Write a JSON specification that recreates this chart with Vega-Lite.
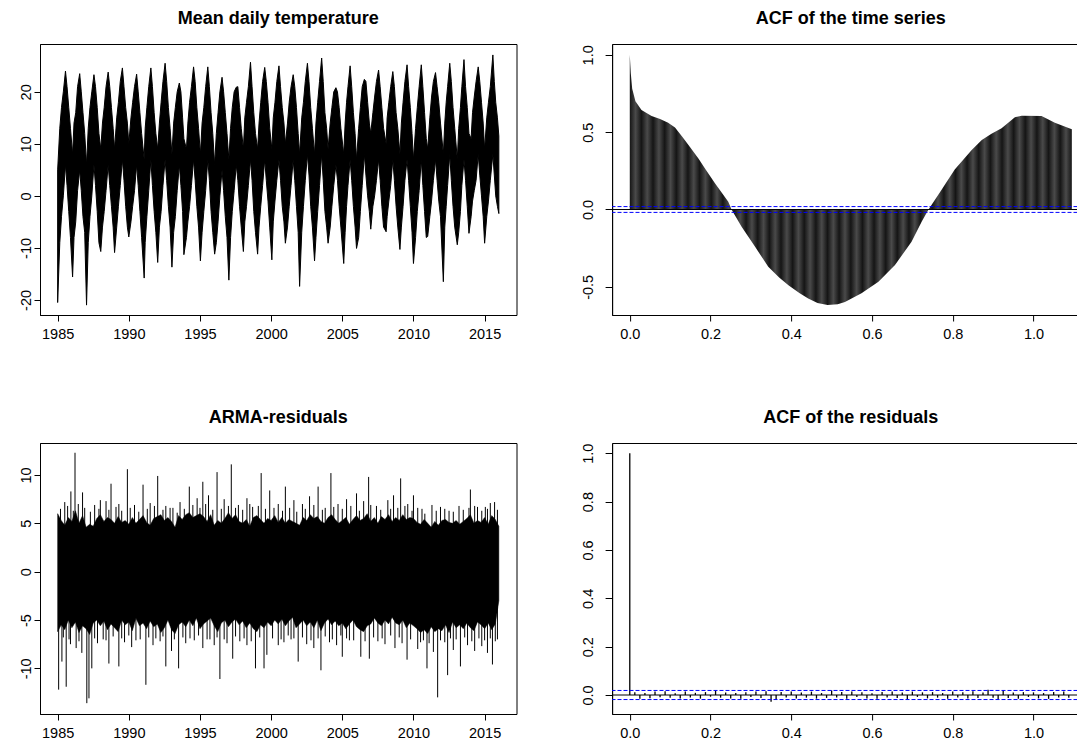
{
"$schema": "https://vega.github.io/schema/vega-lite/v6.json",
"padding": {"left": 5, "top": 9, "right": 0, "bottom": 0},
"background": "white",
"config": {
 "view": {"stroke": "black", "strokeWidth": 1},
 "axis": {"grid": false, "domainColor": "black", "tickColor": "black", "labelColor": "black", "labelFont": "Liberation Sans", "labelFontSize": 14.5, "tickSize": 6, "title": null, "labelPadding": 6, "labelFlush": false, "labelOverlap": false},
 "axisY": {"labelAngle": -90, "labelAlign": "center", "labelBaseline": "alphabetic", "labelPadding": 4, "minExtent": 34, "maxExtent": 34},
 "title": {"font": "Liberation Sans", "fontSize": 18, "fontWeight": "bold", "color": "black", "anchor": "middle", "frame": "group", "baseline": "top", "offset": 16}
},
"datasets": {
 "temp": [
  {"t":1985.0,"lo":-20.5,"hi":5},{"t":1985.15,"lo":-9,"hi":13},{"t":1985.27,"lo":-4,"hi":17},{"t":1985.4,"lo":0,"hi":20},{"t":1985.55,"lo":6,"hi":24},{"t":1985.66,"lo":2,"hi":21},{"t":1985.78,"lo":-3,"hi":17},{"t":1985.9,"lo":-8,"hi":13},
  {"t":1986.05,"lo":-15.6,"hi":8},{"t":1986.15,"lo":-8,"hi":14},{"t":1986.27,"lo":-5,"hi":16},{"t":1986.4,"lo":1,"hi":21},{"t":1986.55,"lo":5,"hi":23.5},{"t":1986.66,"lo":1,"hi":20},{"t":1986.78,"lo":-4,"hi":16},{"t":1986.9,"lo":-7,"hi":12},
  {"t":1987.03,"lo":-21,"hi":6},{"t":1987.15,"lo":-9,"hi":13},{"t":1987.27,"lo":-4,"hi":17},{"t":1987.4,"lo":0,"hi":20},{"t":1987.55,"lo":6,"hi":23.3},{"t":1987.66,"lo":2,"hi":21},{"t":1987.78,"lo":-3,"hi":17},{"t":1987.9,"lo":-9,"hi":12},
  {"t":1988.03,"lo":-10.7,"hi":9},{"t":1988.15,"lo":-6,"hi":14},{"t":1988.27,"lo":-3,"hi":17},{"t":1988.4,"lo":1,"hi":21},{"t":1988.55,"lo":6,"hi":23.8},{"t":1988.66,"lo":2,"hi":21},{"t":1988.78,"lo":-2,"hi":17},{"t":1988.9,"lo":-6,"hi":13},
  {"t":1989.0,"lo":-10.9,"hi":9},{"t":1989.15,"lo":-6,"hi":15},{"t":1989.27,"lo":-2,"hi":18},{"t":1989.4,"lo":2,"hi":22},{"t":1989.55,"lo":7,"hi":24.6},{"t":1989.66,"lo":3,"hi":21},{"t":1989.78,"lo":-2,"hi":17},{"t":1989.9,"lo":-6,"hi":14},
  {"t":1990.0,"lo":-7.9,"hi":10},{"t":1990.15,"lo":-5,"hi":15},{"t":1990.27,"lo":-2,"hi":18},{"t":1990.4,"lo":1,"hi":21},{"t":1990.55,"lo":6,"hi":23.4},{"t":1990.66,"lo":2,"hi":20},{"t":1990.78,"lo":-3,"hi":16},{"t":1990.9,"lo":-8,"hi":12},
  {"t":1991.08,"lo":-15.8,"hi":7},{"t":1991.15,"lo":-9,"hi":13},{"t":1991.27,"lo":-4,"hi":17},{"t":1991.4,"lo":1,"hi":21},{"t":1991.55,"lo":7,"hi":24.6},{"t":1991.66,"lo":2,"hi":21},{"t":1991.78,"lo":-3,"hi":16},{"t":1991.9,"lo":-7,"hi":12},
  {"t":1992.03,"lo":-12.8,"hi":9},{"t":1992.15,"lo":-6,"hi":14},{"t":1992.27,"lo":-3,"hi":18},{"t":1992.4,"lo":2,"hi":22},{"t":1992.55,"lo":7,"hi":25.5},{"t":1992.66,"lo":3,"hi":22},{"t":1992.78,"lo":-2,"hi":17},{"t":1992.9,"lo":-6,"hi":13},
  {"t":1993.03,"lo":-13.7,"hi":8},{"t":1993.15,"lo":-7,"hi":14},{"t":1993.27,"lo":-4,"hi":17},{"t":1993.4,"lo":1,"hi":20},{"t":1993.55,"lo":6,"hi":21.7},{"t":1993.66,"lo":2,"hi":20},{"t":1993.78,"lo":-3,"hi":15},{"t":1993.87,"lo":-11.3,"hi":11},
  {"t":1994.05,"lo":-8,"hi":9},{"t":1994.15,"lo":-5,"hi":14},{"t":1994.27,"lo":-2,"hi":18},{"t":1994.4,"lo":2,"hi":21},{"t":1994.55,"lo":7,"hi":24.8},{"t":1994.66,"lo":3,"hi":22},{"t":1994.78,"lo":-2,"hi":17},{"t":1994.9,"lo":-6,"hi":13},
  {"t":1995.03,"lo":-12.5,"hi":8},{"t":1995.15,"lo":-7,"hi":14},{"t":1995.27,"lo":-3,"hi":17},{"t":1995.4,"lo":1,"hi":21},{"t":1995.55,"lo":7,"hi":24.8},{"t":1995.66,"lo":3,"hi":21},{"t":1995.78,"lo":-3,"hi":16},{"t":1995.9,"lo":-7,"hi":12},
  {"t":1996.03,"lo":-11.2,"hi":6},{"t":1996.15,"lo":-9,"hi":12},{"t":1996.27,"lo":-5,"hi":16},{"t":1996.4,"lo":0,"hi":20},{"t":1996.55,"lo":5,"hi":22.8},{"t":1996.66,"lo":1,"hi":20},{"t":1996.78,"lo":-4,"hi":16},{"t":1996.9,"lo":-8,"hi":12},
  {"t":1997.03,"lo":-16.2,"hi":7},{"t":1997.15,"lo":-8,"hi":13},{"t":1997.27,"lo":-3,"hi":17},{"t":1997.4,"lo":1,"hi":20},{"t":1997.55,"lo":6,"hi":20.9},{"t":1997.66,"lo":3,"hi":21},{"t":1997.78,"lo":-2,"hi":17},{"t":1997.9,"lo":-6,"hi":13},
  {"t":1998.05,"lo":-10.7,"hi":9},{"t":1998.15,"lo":-5,"hi":15},{"t":1998.27,"lo":-2,"hi":18},{"t":1998.4,"lo":2,"hi":21},{"t":1998.55,"lo":7,"hi":25.7},{"t":1998.66,"lo":3,"hi":21},{"t":1998.78,"lo":-3,"hi":16},{"t":1998.9,"lo":-7,"hi":12},
  {"t":1999.05,"lo":-11.2,"hi":9},{"t":1999.15,"lo":-6,"hi":14},{"t":1999.27,"lo":-2,"hi":18},{"t":1999.4,"lo":2,"hi":22},{"t":1999.55,"lo":7,"hi":24.7},{"t":1999.66,"lo":3,"hi":22},{"t":1999.78,"lo":-1,"hi":18},{"t":1999.9,"lo":-6,"hi":13},
  {"t":2000.05,"lo":-12.3,"hi":9},{"t":2000.15,"lo":-5,"hi":15},{"t":2000.27,"lo":-1,"hi":18},{"t":2000.4,"lo":3,"hi":22},{"t":2000.55,"lo":7,"hi":25},{"t":2000.66,"lo":3,"hi":21},{"t":2000.78,"lo":-2,"hi":17},{"t":2000.9,"lo":-5,"hi":14},
  {"t":2001.0,"lo":-9.1,"hi":10},{"t":2001.15,"lo":-6,"hi":14},{"t":2001.27,"lo":-2,"hi":18},{"t":2001.4,"lo":2,"hi":21},{"t":2001.55,"lo":7,"hi":23.3},{"t":2001.66,"lo":3,"hi":21},{"t":2001.78,"lo":-2,"hi":17},{"t":2001.9,"lo":-7,"hi":12},
  {"t":2002.0,"lo":-17.4,"hi":8},{"t":2002.15,"lo":-7,"hi":15},{"t":2002.27,"lo":-2,"hi":18},{"t":2002.4,"lo":3,"hi":22},{"t":2002.55,"lo":8,"hi":25.5},{"t":2002.66,"lo":4,"hi":22},{"t":2002.78,"lo":-2,"hi":17},{"t":2002.9,"lo":-6,"hi":13},
  {"t":2003.05,"lo":-12.5,"hi":8},{"t":2003.15,"lo":-8,"hi":14},{"t":2003.27,"lo":-3,"hi":18},{"t":2003.4,"lo":2,"hi":22},{"t":2003.55,"lo":8,"hi":26.5},{"t":2003.66,"lo":3,"hi":22},{"t":2003.78,"lo":-3,"hi":16},{"t":2003.9,"lo":-6,"hi":13},
  {"t":2004.0,"lo":-9.1,"hi":9},{"t":2004.15,"lo":-6,"hi":14},{"t":2004.27,"lo":-2,"hi":17},{"t":2004.4,"lo":2,"hi":20},{"t":2004.55,"lo":6,"hi":20.8},{"t":2004.66,"lo":3,"hi":20},{"t":2004.78,"lo":-2,"hi":17},{"t":2004.9,"lo":-6,"hi":13},
  {"t":2005.1,"lo":-13,"hi":8},{"t":2005.2,"lo":-7,"hi":14},{"t":2005.3,"lo":-2,"hi":18},{"t":2005.4,"lo":2,"hi":21},{"t":2005.55,"lo":7,"hi":25},{"t":2005.66,"lo":3,"hi":21},{"t":2005.78,"lo":-2,"hi":16},{"t":2005.9,"lo":-6,"hi":12},
  {"t":2006.0,"lo":-10.1,"hi":7},{"t":2006.15,"lo":-8,"hi":13},{"t":2006.27,"lo":-3,"hi":17},{"t":2006.4,"lo":2,"hi":21},{"t":2006.55,"lo":8,"hi":22.4},{"t":2006.66,"lo":4,"hi":22},{"t":2006.78,"lo":0,"hi":18},{"t":2006.9,"lo":-3,"hi":14},
  {"t":2007.0,"lo":-6.4,"hi":12},{"t":2007.15,"lo":-2,"hi":16},{"t":2007.27,"lo":0,"hi":19},{"t":2007.4,"lo":3,"hi":22},{"t":2007.55,"lo":7,"hi":24.2},{"t":2007.66,"lo":3,"hi":21},{"t":2007.78,"lo":-2,"hi":17},{"t":2007.9,"lo":-6,"hi":13},
  {"t":2008.08,"lo":-6.9,"hi":10},{"t":2008.15,"lo":-4,"hi":15},{"t":2008.27,"lo":-1,"hi":18},{"t":2008.4,"lo":2,"hi":21},{"t":2008.55,"lo":7,"hi":23.9},{"t":2008.66,"lo":3,"hi":21},{"t":2008.78,"lo":-2,"hi":16},{"t":2008.9,"lo":-6,"hi":13},
  {"t":2009.05,"lo":-10.3,"hi":8},{"t":2009.15,"lo":-6,"hi":14},{"t":2009.27,"lo":-2,"hi":18},{"t":2009.4,"lo":3,"hi":22},{"t":2009.55,"lo":7,"hi":25.2},{"t":2009.66,"lo":3,"hi":21},{"t":2009.78,"lo":-2,"hi":17},{"t":2009.9,"lo":-7,"hi":12},
  {"t":2010.0,"lo":-13,"hi":7},{"t":2010.15,"lo":-8,"hi":13},{"t":2010.27,"lo":-3,"hi":17},{"t":2010.4,"lo":1,"hi":21},{"t":2010.55,"lo":7,"hi":25.2},{"t":2010.66,"lo":2,"hi":21},{"t":2010.78,"lo":-3,"hi":16},{"t":2010.9,"lo":-8,"hi":11},
  {"t":2011.0,"lo":-7.8,"hi":9},{"t":2011.15,"lo":-4,"hi":15},{"t":2011.27,"lo":-1,"hi":19},{"t":2011.4,"lo":3,"hi":22},{"t":2011.55,"lo":7,"hi":23.7},{"t":2011.66,"lo":3,"hi":21},{"t":2011.78,"lo":-1,"hi":18},{"t":2011.9,"lo":-4,"hi":14},
  {"t":2012.1,"lo":-16.5,"hi":8},{"t":2012.2,"lo":-6,"hi":14},{"t":2012.3,"lo":-2,"hi":18},{"t":2012.4,"lo":2,"hi":21},{"t":2012.55,"lo":8,"hi":25.5},{"t":2012.66,"lo":3,"hi":22},{"t":2012.78,"lo":-2,"hi":17},{"t":2012.9,"lo":-6,"hi":13},
  {"t":2013.08,"lo":-9.4,"hi":7},{"t":2013.18,"lo":-7,"hi":13},{"t":2013.3,"lo":-3,"hi":17},{"t":2013.4,"lo":2,"hi":21},{"t":2013.55,"lo":7,"hi":26.2},{"t":2013.66,"lo":3,"hi":21},{"t":2013.78,"lo":-2,"hi":17},{"t":2013.9,"lo":-7.2,"hi":12},
  {"t":2014.05,"lo":-4,"hi":11},{"t":2014.15,"lo":-1,"hi":16},{"t":2014.27,"lo":1,"hi":19},{"t":2014.4,"lo":3,"hi":22},{"t":2014.55,"lo":8,"hi":24.8},{"t":2014.66,"lo":4,"hi":22},{"t":2014.78,"lo":0,"hi":18},{"t":2014.9,"lo":-4,"hi":14},
  {"t":2015.0,"lo":-9.1,"hi":9},{"t":2015.15,"lo":-4,"hi":15},{"t":2015.27,"lo":-1,"hi":18},{"t":2015.4,"lo":3,"hi":21},{"t":2015.58,"lo":8,"hi":27.1},{"t":2015.68,"lo":4,"hi":22},{"t":2015.78,"lo":0,"hi":18},{"t":2015.9,"lo":-2,"hi":15},
  {"t":2016.0,"lo":-3.4,"hi":11.5}
 ],
 "acf": [
  {"lag":0,"acf":1.0},{"lag":0.0025,"acf":0.88},{"lag":0.006,"acf":0.78},{"lag":0.014,"acf":0.70},{"lag":0.029,"acf":0.643},{"lag":0.054,"acf":0.604},{"lag":0.075,"acf":0.585},{"lag":0.095,"acf":0.56},{"lag":0.112,"acf":0.53},{"lag":0.13,"acf":0.47},{"lag":0.15,"acf":0.40},{"lag":0.17,"acf":0.33},{"lag":0.19,"acf":0.25},{"lag":0.211,"acf":0.169},{"lag":0.244,"acf":0.05},{"lag":0.252,"acf":0.0},{"lag":0.277,"acf":-0.111},{"lag":0.31,"acf":-0.24},{"lag":0.343,"acf":-0.37},{"lag":0.37,"acf":-0.44},{"lag":0.393,"acf":-0.49},{"lag":0.42,"acf":-0.54},{"lag":0.442,"acf":-0.575},{"lag":0.465,"acf":-0.605},{"lag":0.49,"acf":-0.618},{"lag":0.515,"acf":-0.612},{"lag":0.533,"acf":-0.598},{"lag":0.574,"acf":-0.542},{"lag":0.616,"acf":-0.467},{"lag":0.657,"acf":-0.359},{"lag":0.698,"acf":-0.208},{"lag":0.723,"acf":-0.079},{"lag":0.74,"acf":0.0},{"lag":0.772,"acf":0.126},{"lag":0.805,"acf":0.258},{"lag":0.847,"acf":0.385},{"lag":0.872,"acf":0.449},{"lag":0.896,"acf":0.49},{"lag":0.921,"acf":0.525},{"lag":0.954,"acf":0.596},{"lag":0.971,"acf":0.606},{"lag":1.02,"acf":0.604},{"lag":1.053,"acf":0.561},{"lag":1.095,"acf":0.518}
 ],
 "res": [
  {"t":1985.0,"lo":-6.2,"hi":6.0},{"t":1985.25,"lo":-5.5,"hi":5.3},{"t":1985.5,"lo":-6.0,"hi":4.8},{"t":1985.75,"lo":-5.0,"hi":5.6},
  {"t":1986.0,"lo":-5.8,"hi":5.2},{"t":1986.25,"lo":-5.2,"hi":6.3},{"t":1986.5,"lo":-6.3,"hi":5.0},{"t":1986.75,"lo":-5.6,"hi":5.8},
  {"t":1987.0,"lo":-5.9,"hi":4.6},{"t":1987.25,"lo":-6.5,"hi":4.9},{"t":1987.5,"lo":-5.3,"hi":4.7},{"t":1987.75,"lo":-5.0,"hi":5.5},
  {"t":1988.0,"lo":-5.6,"hi":5.9},{"t":1988.25,"lo":-5.1,"hi":5.2},{"t":1988.5,"lo":-6.0,"hi":5.6},{"t":1988.75,"lo":-5.4,"hi":5.4},
  {"t":1989.0,"lo":-5.8,"hi":5.0},{"t":1989.25,"lo":-6.2,"hi":5.7},{"t":1989.5,"lo":-5.0,"hi":5.1},{"t":1989.75,"lo":-5.5,"hi":5.3},
  {"t":1990.0,"lo":-5.2,"hi":4.9},{"t":1990.25,"lo":-6.1,"hi":5.6},{"t":1990.5,"lo":-4.8,"hi":5.0},{"t":1990.75,"lo":-5.6,"hi":5.4},
  {"t":1991.0,"lo":-5.3,"hi":5.8},{"t":1991.25,"lo":-5.9,"hi":5.1},{"t":1991.5,"lo":-5.1,"hi":4.8},{"t":1991.75,"lo":-5.7,"hi":5.5},
  {"t":1992.0,"lo":-5.4,"hi":5.7},{"t":1992.25,"lo":-6.3,"hi":5.9},{"t":1992.5,"lo":-5.8,"hi":5.3},{"t":1992.75,"lo":-5.0,"hi":5.6},
  {"t":1993.0,"lo":-6.0,"hi":5.2},{"t":1993.25,"lo":-6.4,"hi":4.6},{"t":1993.5,"lo":-5.5,"hi":5.8},{"t":1993.75,"lo":-5.2,"hi":5.4},
  {"t":1994.0,"lo":-5.7,"hi":5.9},{"t":1994.25,"lo":-5.0,"hi":6.1},{"t":1994.5,"lo":-5.6,"hi":5.6},{"t":1994.75,"lo":-4.8,"hi":5.8},
  {"t":1995.0,"lo":-5.9,"hi":6.0},{"t":1995.25,"lo":-5.4,"hi":5.7},{"t":1995.5,"lo":-5.1,"hi":5.2},{"t":1995.75,"lo":-4.8,"hi":5.9},
  {"t":1996.0,"lo":-5.6,"hi":4.8},{"t":1996.25,"lo":-6.2,"hi":5.3},{"t":1996.5,"lo":-5.3,"hi":5.0},{"t":1996.75,"lo":-5.0,"hi":5.5},
  {"t":1997.0,"lo":-5.7,"hi":6.1},{"t":1997.25,"lo":-5.2,"hi":5.5},{"t":1997.5,"lo":-4.9,"hi":5.9},{"t":1997.75,"lo":-5.5,"hi":5.2},
  {"t":1998.0,"lo":-5.1,"hi":5.0},{"t":1998.25,"lo":-5.8,"hi":5.4},{"t":1998.5,"lo":-5.3,"hi":4.7},{"t":1998.75,"lo":-5.9,"hi":5.6},
  {"t":1999.0,"lo":-6.2,"hi":5.8},{"t":1999.25,"lo":-5.5,"hi":5.4},{"t":1999.5,"lo":-5.8,"hi":5.0},{"t":1999.75,"lo":-5.2,"hi":5.5},
  {"t":2000.0,"lo":-5.6,"hi":5.3},{"t":2000.25,"lo":-5.0,"hi":5.8},{"t":2000.5,"lo":-5.4,"hi":5.1},{"t":2000.75,"lo":-4.9,"hi":5.6},
  {"t":2001.0,"lo":-5.6,"hi":5.0},{"t":2001.25,"lo":-5.1,"hi":5.4},{"t":2001.5,"lo":-4.7,"hi":5.2},{"t":2001.75,"lo":-5.8,"hi":5.0},
  {"t":2002.0,"lo":-5.4,"hi":4.8},{"t":2002.25,"lo":-5.0,"hi":5.6},{"t":2002.5,"lo":-5.6,"hi":5.3},{"t":2002.75,"lo":-5.2,"hi":5.9},
  {"t":2003.0,"lo":-5.8,"hi":5.5},{"t":2003.25,"lo":-5.0,"hi":5.7},{"t":2003.5,"lo":-6.1,"hi":5.2},{"t":2003.75,"lo":-5.3,"hi":5.0},
  {"t":2004.0,"lo":-4.9,"hi":5.6},{"t":2004.25,"lo":-5.5,"hi":5.9},{"t":2004.5,"lo":-5.1,"hi":5.4},{"t":2004.75,"lo":-5.6,"hi":5.0},
  {"t":2005.0,"lo":-5.3,"hi":5.3},{"t":2005.25,"lo":-5.9,"hi":5.6},{"t":2005.5,"lo":-5.4,"hi":4.9},{"t":2005.75,"lo":-5.0,"hi":5.4},
  {"t":2006.0,"lo":-5.7,"hi":5.8},{"t":2006.25,"lo":-6.0,"hi":5.3},{"t":2006.5,"lo":-6.2,"hi":5.5},{"t":2006.75,"lo":-5.6,"hi":6.0},
  {"t":2007.0,"lo":-5.4,"hi":5.2},{"t":2007.25,"lo":-4.8,"hi":5.6},{"t":2007.5,"lo":-5.3,"hi":5.0},{"t":2007.75,"lo":-5.6,"hi":5.7},
  {"t":2008.0,"lo":-5.0,"hi":5.4},{"t":2008.25,"lo":-5.4,"hi":5.9},{"t":2008.5,"lo":-4.7,"hi":5.2},{"t":2008.75,"lo":-5.3,"hi":5.6},
  {"t":2009.0,"lo":-5.5,"hi":5.3},{"t":2009.25,"lo":-5.0,"hi":5.9},{"t":2009.5,"lo":-5.8,"hi":5.4},{"t":2009.75,"lo":-5.3,"hi":5.6},
  {"t":2010.0,"lo":-5.6,"hi":5.5},{"t":2010.25,"lo":-5.9,"hi":5.1},{"t":2010.5,"lo":-6.3,"hi":4.9},{"t":2010.75,"lo":-6.0,"hi":5.4},
  {"t":2011.0,"lo":-6.4,"hi":5.0},{"t":2011.25,"lo":-5.7,"hi":4.6},{"t":2011.5,"lo":-6.2,"hi":5.2},{"t":2011.75,"lo":-5.9,"hi":4.8},
  {"t":2012.0,"lo":-6.1,"hi":5.3},{"t":2012.25,"lo":-5.5,"hi":5.4},{"t":2012.5,"lo":-6.3,"hi":5.1},{"t":2012.75,"lo":-5.2,"hi":5.0},
  {"t":2013.0,"lo":-5.8,"hi":5.3},{"t":2013.25,"lo":-5.5,"hi":4.9},{"t":2013.5,"lo":-5.9,"hi":5.2},{"t":2013.75,"lo":-5.3,"hi":5.5},
  {"t":2014.0,"lo":-5.8,"hi":5.9},{"t":2014.25,"lo":-6.1,"hi":5.0},{"t":2014.5,"lo":-5.2,"hi":5.3},{"t":2014.75,"lo":-5.5,"hi":5.1},
  {"t":2015.0,"lo":-5.9,"hi":5.6},{"t":2015.25,"lo":-5.3,"hi":4.9},{"t":2015.5,"lo":-6.0,"hi":5.8},{"t":2015.75,"lo":-5.4,"hi":5.4},
  {"t":2016.0,"lo":-3.0,"hi":4.7}
 ],
 "spikes": [
  {"t":1985.5,"v":7.2},{"t":1985.93,"v":8.3},{"t":1986.22,"v":12.3},{"t":1986.45,"v":7.0},{"t":1986.75,"v":8.2},{"t":1987.6,"v":6.9},{"t":1988.0,"v":7.4},{"t":1988.4,"v":7.3},{"t":1988.75,"v":9.1},{"t":1989.3,"v":7.0},{"t":1989.9,"v":10.6},{"t":1990.4,"v":6.9},{"t":1991.0,"v":9.0},{"t":1991.5,"v":7.1},{"t":1992.03,"v":9.9},{"t":1992.6,"v":6.8},{"t":1993.1,"v":6.6},{"t":1993.6,"v":7.2},{"t":1994.25,"v":8.8},{"t":1994.8,"v":7.6},{"t":1995.2,"v":9.3},{"t":1995.6,"v":7.9},{"t":1996.2,"v":10.3},{"t":1996.7,"v":7.5},{"t":1997.2,"v":11.1},{"t":1997.7,"v":6.9},{"t":1998.3,"v":7.6},{"t":1998.7,"v":6.7},{"t":1999.3,"v":10.2},{"t":1999.9,"v":8.4},{"t":2000.5,"v":7.0},{"t":2001.0,"v":8.8},{"t":2001.6,"v":7.4},{"t":2002.2,"v":7.0},{"t":2002.7,"v":7.8},{"t":2003.3,"v":8.8},{"t":2003.8,"v":6.6},{"t":2004.2,"v":10.2},{"t":2004.7,"v":7.0},{"t":2005.3,"v":7.5},{"t":2006.0,"v":8.1},{"t":2006.5,"v":7.3},{"t":2006.85,"v":9.8},{"t":2007.4,"v":6.8},{"t":2008.2,"v":7.4},{"t":2008.6,"v":7.9},{"t":2009.1,"v":9.65},{"t":2009.6,"v":7.0},{"t":2010.0,"v":7.9},{"t":2010.6,"v":6.5},{"t":2011.3,"v":6.9},{"t":2011.9,"v":6.7},{"t":2012.5,"v":6.3},{"t":2013.2,"v":6.8},{"t":2014.0,"v":8.5},{"t":2014.5,"v":6.7},{"t":2015.05,"v":6.7},{"t":2015.4,"v":7.1},{"t":2015.7,"v":7.2},
  {"t":1985.2,"v":6.5},{"t":1985.7,"v":6.8},{"t":1986.1,"v":6.3},{"t":1986.9,"v":6.6},{"t":1987.3,"v":6.2},{"t":1987.9,"v":6.5},{"t":1988.6,"v":6.4},{"t":1989.1,"v":6.7},{"t":1989.5,"v":6.3},{"t":1990.1,"v":6.6},{"t":1990.7,"v":6.2},{"t":1991.3,"v":6.5},{"t":1991.8,"v":6.8},{"t":1992.4,"v":6.4},{"t":1992.9,"v":6.6},{"t":1993.4,"v":6.1},{"t":1993.9,"v":6.5},{"t":1994.5,"v":6.9},{"t":1995.0,"v":6.6},{"t":1995.4,"v":7.0},{"t":1995.9,"v":6.4},{"t":1996.5,"v":6.5},{"t":1997.0,"v":6.8},{"t":1997.5,"v":6.6},{"t":1998.0,"v":6.4},{"t":1998.5,"v":7.0},{"t":1999.1,"v":6.8},{"t":1999.6,"v":6.5},{"t":2000.2,"v":6.6},{"t":2000.8,"v":6.3},{"t":2001.3,"v":6.6},{"t":2001.8,"v":6.2},{"t":2002.4,"v":6.5},{"t":2003.0,"v":6.9},{"t":2003.6,"v":6.4},{"t":2004.4,"v":6.7},{"t":2005.0,"v":6.5},{"t":2005.6,"v":6.8},{"t":2006.2,"v":6.3},{"t":2007.0,"v":6.9},{"t":2007.7,"v":6.4},{"t":2008.4,"v":6.5},{"t":2008.9,"v":6.6},{"t":2009.4,"v":6.8},{"t":2009.9,"v":6.3},{"t":2010.3,"v":6.6},{"t":2010.8,"v":6.0},{"t":2011.6,"v":6.3},{"t":2012.2,"v":6.5},{"t":2012.8,"v":6.2},{"t":2013.5,"v":6.4},{"t":2013.9,"v":6.6},{"t":2014.3,"v":6.8},{"t":2014.8,"v":6.3},{"t":2015.2,"v":6.5},{"t":2015.9,"v":6.4},
  {"t":1985.07,"v":-12.2},{"t":1985.3,"v":-9.3},{"t":1985.6,"v":-11.9},{"t":1985.9,"v":-7.5},{"t":1986.3,"v":-7.9},{"t":1986.7,"v":-8.4},{"t":1987.05,"v":-13.6},{"t":1987.2,"v":-13.1},{"t":1987.4,"v":-10.0},{"t":1987.8,"v":-7.4},{"t":1988.2,"v":-7.0},{"t":1988.6,"v":-9.5},{"t":1989.3,"v":-9.8},{"t":1989.7,"v":-7.3},{"t":1990.2,"v":-7.8},{"t":1990.8,"v":-7.0},{"t":1991.2,"v":-11.7},{"t":1991.7,"v":-7.6},{"t":1992.2,"v":-7.2},{"t":1992.6,"v":-9.8},{"t":1993.0,"v":-8.2},{"t":1993.5,"v":-10.0},{"t":1994.0,"v":-7.4},{"t":1994.6,"v":-7.1},{"t":1995.2,"v":-7.9},{"t":1995.7,"v":-7.0},{"t":1996.0,"v":-7.6},{"t":1996.4,"v":-11.1},{"t":1996.9,"v":-7.4},{"t":1997.3,"v":-9.0},{"t":1997.8,"v":-7.2},{"t":1998.3,"v":-7.6},{"t":1998.9,"v":-10.0},{"t":1999.5,"v":-10.0},{"t":1999.7,"v":-8.6},{"t":2000.5,"v":-7.6},{"t":2000.9,"v":-7.3},{"t":2001.4,"v":-7.0},{"t":2001.9,"v":-9.3},{"t":2002.5,"v":-7.5},{"t":2003.0,"v":-7.9},{"t":2003.5,"v":-10.2},{"t":2004.1,"v":-7.3},{"t":2004.6,"v":-7.6},{"t":2005.0,"v":-8.8},{"t":2005.5,"v":-7.1},{"t":2006.3,"v":-8.8},{"t":2006.9,"v":-9.0},{"t":2007.5,"v":-7.2},{"t":2008.0,"v":-7.5},{"t":2008.7,"v":-7.9},{"t":2009.2,"v":-7.4},{"t":2009.55,"v":-9.1},{"t":2010.3,"v":-8.0},{"t":2010.95,"v":-10.0},{"t":2011.4,"v":-8.3},{"t":2011.7,"v":-13.0},{"t":2012.4,"v":-10.7},{"t":2012.8,"v":-8.1},{"t":2013.3,"v":-9.8},{"t":2013.8,"v":-7.6},{"t":2014.3,"v":-8.2},{"t":2014.8,"v":-7.7},{"t":2015.2,"v":-8.4},{"t":2015.55,"v":-9.6},{"t":2015.9,"v":-7.0},
  {"t":1985.4,"v":-6.8},{"t":1985.8,"v":-7.0},{"t":1986.5,"v":-7.2},{"t":1987.6,"v":-6.9},{"t":1988.4,"v":-7.1},{"t":1988.9,"v":-6.7},{"t":1989.5,"v":-6.9},{"t":1990.0,"v":-6.6},{"t":1990.5,"v":-7.1},{"t":1991.4,"v":-6.8},{"t":1991.9,"v":-6.9},{"t":1992.4,"v":-6.7},{"t":1993.2,"v":-7.0},{"t":1993.8,"v":-6.8},{"t":1994.3,"v":-6.9},{"t":1994.9,"v":-6.6},{"t":1995.5,"v":-7.0},{"t":1996.2,"v":-6.8},{"t":1996.7,"v":-7.0},{"t":1997.5,"v":-6.7},{"t":1998.1,"v":-6.9},{"t":1998.6,"v":-7.2},{"t":1999.2,"v":-6.8},{"t":2000.1,"v":-6.9},{"t":2000.7,"v":-7.0},{"t":2001.2,"v":-6.6},{"t":2001.6,"v":-6.9},{"t":2002.2,"v":-6.8},{"t":2002.8,"v":-7.1},{"t":2003.3,"v":-6.9},{"t":2003.8,"v":-6.7},{"t":2004.3,"v":-7.0},{"t":2004.9,"v":-6.6},{"t":2005.3,"v":-6.9},{"t":2005.8,"v":-7.1},{"t":2006.6,"v":-7.2},{"t":2007.2,"v":-6.8},{"t":2007.8,"v":-6.9},{"t":2008.4,"v":-6.6},{"t":2009.0,"v":-6.8},{"t":2009.8,"v":-7.0},{"t":2010.5,"v":-7.3},{"t":2010.7,"v":-7.1},{"t":2011.1,"v":-7.4},{"t":2011.9,"v":-7.1},{"t":2012.2,"v":-7.3},{"t":2012.6,"v":-6.9},{"t":2013.0,"v":-7.0},{"t":2013.6,"v":-6.8},{"t":2014.1,"v":-7.2},{"t":2014.6,"v":-6.9},{"t":2015.0,"v":-7.1},{"t":2015.4,"v":-6.9},{"t":2015.75,"v":-7.2}
 ],
 "racf": [
  {"lag":0,"acf":1.0},{"lag":0.0125,"acf":0.011},{"lag":0.025,"acf":-0.016},{"lag":0.0375,"acf":0.008},{"lag":0.05,"acf":-0.013},{"lag":0.0625,"acf":0.014},{"lag":0.075,"acf":-0.009},{"lag":0.0875,"acf":0.016},{"lag":0.1,"acf":-0.011},{"lag":0.1125,"acf":0.007},{"lag":0.125,"acf":-0.014},{"lag":0.1375,"acf":0.015},{"lag":0.15,"acf":-0.010},{"lag":0.1625,"acf":0.009},{"lag":0.175,"acf":-0.015},{"lag":0.1875,"acf":0.012},{"lag":0.2,"acf":-0.007},{"lag":0.2125,"acf":0.018},{"lag":0.225,"acf":-0.011},{"lag":0.2375,"acf":0.010},{"lag":0.25,"acf":-0.014},{"lag":0.2625,"acf":0.008},{"lag":0.275,"acf":-0.016},{"lag":0.2875,"acf":0.011},{"lag":0.3,"acf":-0.008},{"lag":0.3125,"acf":0.014},{"lag":0.325,"acf":-0.012},{"lag":0.3375,"acf":0.016},{"lag":0.35,"acf":-0.028},{"lag":0.3625,"acf":-0.020},{"lag":0.375,"acf":0.012},{"lag":0.3875,"acf":-0.010},{"lag":0.4,"acf":0.015},{"lag":0.4125,"acf":-0.014},{"lag":0.425,"acf":0.010},{"lag":0.4375,"acf":-0.011},{"lag":0.45,"acf":0.014},{"lag":0.4625,"acf":-0.015},{"lag":0.475,"acf":0.008},{"lag":0.4875,"acf":-0.012},{"lag":0.5,"acf":0.019},{"lag":0.5125,"acf":-0.010},{"lag":0.525,"acf":0.012},{"lag":0.5375,"acf":-0.016},{"lag":0.55,"acf":0.014},{"lag":0.5625,"acf":-0.008},{"lag":0.575,"acf":0.011},{"lag":0.5875,"acf":-0.014},{"lag":0.6,"acf":0.007},{"lag":0.6125,"acf":-0.015},{"lag":0.625,"acf":0.012},{"lag":0.6375,"acf":-0.010},{"lag":0.65,"acf":0.015},{"lag":0.6625,"acf":-0.012},{"lag":0.675,"acf":0.010},{"lag":0.6875,"acf":-0.017},{"lag":0.7,"acf":0.014},{"lag":0.7125,"acf":-0.008},{"lag":0.725,"acf":0.011},{"lag":0.7375,"acf":-0.014},{"lag":0.75,"acf":0.012},{"lag":0.7625,"acf":-0.011},{"lag":0.775,"acf":0.008},{"lag":0.7875,"acf":-0.016},{"lag":0.8,"acf":0.015},{"lag":0.8125,"acf":-0.010},{"lag":0.825,"acf":0.011},{"lag":0.8375,"acf":-0.014},{"lag":0.85,"acf":0.016},{"lag":0.8625,"acf":-0.012},{"lag":0.875,"acf":0.010},{"lag":0.8875,"acf":0.022},{"lag":0.9,"acf":-0.011},{"lag":0.9125,"acf":-0.018},{"lag":0.925,"acf":0.020},{"lag":0.9375,"acf":-0.012},{"lag":0.95,"acf":0.010},{"lag":0.9625,"acf":-0.015},{"lag":0.975,"acf":0.012},{"lag":0.9875,"acf":-0.008},{"lag":1.0,"acf":0.011},{"lag":1.0125,"acf":-0.014},{"lag":1.025,"acf":0.008},{"lag":1.0375,"acf":-0.016},{"lag":1.05,"acf":0.012},{"lag":1.0625,"acf":-0.010},{"lag":1.075,"acf":0.014},{"lag":1.0875,"acf":-0.011}
 ]
},
"columns": 2,
"spacing": {"row": 128, "column": 95.1},
"bounds": "flush",
"concat": [
 {
  "title": "Mean daily temperature",
  "width": 476.5, "height": 271,
  "data": {"name": "temp"},
  "mark": {"type": "area", "color": "black", "stroke": "black", "strokeWidth": 1, "interpolate": "linear"},
  "encoding": {
   "x": {"field": "t", "type": "quantitative", "scale": {"domain": [1983.76, 2017.24], "nice": false, "zero": false}, "axis": {"values": [1985, 1990, 1995, 2000, 2005, 2010, 2015], "labelExpr": "'' + datum.value"}},
   "y": {"field": "lo", "type": "quantitative", "scale": {"domain": [-22.9, 29.2], "nice": false, "zero": false}, "axis": {"values": [-20, -10, 0, 10, 20], "labelExpr": "datum.value < 0 ? '-' + (-datum.value) : '' + datum.value"}},
   "y2": {"field": "hi"}
  }
 },
 {
  "title": "ACF of the time series",
  "width": 477.4, "height": 271,
  "layer": [
   {
    "data": {"name": "acf"},
    "mark": {"type": "area", "interpolate": "linear", "color": {"gradient": "linear", "x1": 0, "y1": 0, "x2": 1, "y2": 0, "stops": [
     {"offset":0,"color":"#151515"},{"offset":0.0132,"color":"#4a4a4a"},{"offset":0.0263,"color":"#151515"},{"offset":0.0395,"color":"#4a4a4a"},{"offset":0.0526,"color":"#151515"},{"offset":0.0658,"color":"#4a4a4a"},{"offset":0.0789,"color":"#151515"},{"offset":0.0921,"color":"#4a4a4a"},{"offset":0.1053,"color":"#151515"},{"offset":0.1184,"color":"#4a4a4a"},{"offset":0.1316,"color":"#151515"},{"offset":0.1447,"color":"#4a4a4a"},{"offset":0.1579,"color":"#151515"},{"offset":0.1711,"color":"#4a4a4a"},{"offset":0.1842,"color":"#151515"},{"offset":0.1974,"color":"#4a4a4a"},{"offset":0.2105,"color":"#151515"},{"offset":0.2237,"color":"#4a4a4a"},{"offset":0.2368,"color":"#151515"},{"offset":0.25,"color":"#4a4a4a"},{"offset":0.2632,"color":"#151515"},{"offset":0.2763,"color":"#4a4a4a"},{"offset":0.2895,"color":"#151515"},{"offset":0.3026,"color":"#4a4a4a"},{"offset":0.3158,"color":"#151515"},{"offset":0.3289,"color":"#4a4a4a"},{"offset":0.3421,"color":"#151515"},{"offset":0.3553,"color":"#4a4a4a"},{"offset":0.3684,"color":"#151515"},{"offset":0.3816,"color":"#4a4a4a"},{"offset":0.3947,"color":"#151515"},{"offset":0.4079,"color":"#4a4a4a"},{"offset":0.4211,"color":"#151515"},{"offset":0.4342,"color":"#4a4a4a"},{"offset":0.4474,"color":"#151515"},{"offset":0.4605,"color":"#4a4a4a"},{"offset":0.4737,"color":"#151515"},{"offset":0.4868,"color":"#4a4a4a"},{"offset":0.5,"color":"#151515"},{"offset":0.5132,"color":"#4a4a4a"},{"offset":0.5263,"color":"#151515"},{"offset":0.5395,"color":"#4a4a4a"},{"offset":0.5526,"color":"#151515"},{"offset":0.5658,"color":"#4a4a4a"},{"offset":0.5789,"color":"#151515"},{"offset":0.5921,"color":"#4a4a4a"},{"offset":0.6053,"color":"#151515"},{"offset":0.6184,"color":"#4a4a4a"},{"offset":0.6316,"color":"#151515"},{"offset":0.6447,"color":"#4a4a4a"},{"offset":0.6579,"color":"#151515"},{"offset":0.6711,"color":"#4a4a4a"},{"offset":0.6842,"color":"#151515"},{"offset":0.6974,"color":"#4a4a4a"},{"offset":0.7105,"color":"#151515"},{"offset":0.7237,"color":"#4a4a4a"},{"offset":0.7368,"color":"#151515"},{"offset":0.75,"color":"#4a4a4a"},{"offset":0.7632,"color":"#151515"},{"offset":0.7763,"color":"#4a4a4a"},{"offset":0.7895,"color":"#151515"},{"offset":0.8026,"color":"#4a4a4a"},{"offset":0.8158,"color":"#151515"},{"offset":0.8289,"color":"#4a4a4a"},{"offset":0.8421,"color":"#151515"},{"offset":0.8553,"color":"#4a4a4a"},{"offset":0.8684,"color":"#151515"},{"offset":0.8816,"color":"#4a4a4a"},{"offset":0.8947,"color":"#151515"},{"offset":0.9079,"color":"#4a4a4a"},{"offset":0.9211,"color":"#151515"},{"offset":0.9342,"color":"#4a4a4a"},{"offset":0.9474,"color":"#151515"},{"offset":0.9605,"color":"#4a4a4a"},{"offset":0.9737,"color":"#151515"},{"offset":0.9868,"color":"#4a4a4a"},{"offset":1,"color":"#151515"}
    ]}},
    "encoding": {
     "x": {"field": "lag", "type": "quantitative", "scale": {"domain": [-0.0438, 1.1388], "nice": false, "zero": false}, "axis": {"values": [0, 0.2, 0.4, 0.6, 0.8, 1.0], "labelExpr": "format(datum.value, '.1f')"}},
     "y": {"field": "acf", "type": "quantitative", "scale": {"domain": [-0.682, 1.0698], "nice": false, "zero": false}, "axis": {"values": [-0.5, 0, 0.5, 1.0], "labelPadding": 13, "tickSize": 7, "labelExpr": "datum.value < 0 ? '-' + format(-datum.value, '.1f') : format(datum.value, '.1f')"}},
     "y2": {"datum": 0}
    }
   },
   {"data": {"values": [{}]}, "mark": {"type": "rule", "color": "black", "strokeWidth": 1}, "encoding": {"y": {"datum": 0}}},
   {"data": {"values": [{}]}, "mark": {"type": "rule", "color": "blue", "strokeWidth": 1, "strokeDash": [4, 2]}, "encoding": {"y": {"datum": 0.0188}}},
   {"data": {"values": [{}]}, "mark": {"type": "rule", "color": "blue", "strokeWidth": 1, "strokeDash": [4, 2]}, "encoding": {"y": {"datum": -0.0188}}}
  ]
 },
 {
  "title": "ARMA-residuals",
  "width": 476.5, "height": 271,
  "layer": [
   {
    "data": {"name": "res"},
    "mark": {"type": "area", "color": "black", "stroke": "black", "strokeWidth": 0.5, "interpolate": "linear"},
    "encoding": {
     "x": {"field": "t", "type": "quantitative", "scale": {"domain": [1983.76, 2017.24], "nice": false, "zero": false}, "axis": {"values": [1985, 1990, 1995, 2000, 2005, 2010, 2015], "labelExpr": "'' + datum.value"}},
     "y": {"field": "lo", "type": "quantitative", "scale": {"domain": [-14.72, 13.31], "nice": false, "zero": false}, "axis": {"values": [-10, -5, 0, 5, 10], "labelExpr": "datum.value < 0 ? '-' + (-datum.value) : '' + datum.value"}},
     "y2": {"field": "hi"}
    }
   },
   {
    "data": {"name": "spikes"},
    "mark": {"type": "rule", "color": "black", "strokeWidth": 1},
    "encoding": {
     "x": {"field": "t", "type": "quantitative"},
     "y": {"field": "v", "type": "quantitative"},
     "y2": {"datum": 0}
    }
   }
  ]
 },
 {
  "title": "ACF of the residuals",
  "width": 477.4, "height": 271,
  "layer": [
   {
    "data": {"name": "racf"},
    "mark": {"type": "rule", "color": "black", "strokeWidth": 1.3},
    "encoding": {
     "x": {"field": "lag", "type": "quantitative", "scale": {"domain": [-0.0438, 1.1388], "nice": false, "zero": false}, "axis": {"values": [0, 0.2, 0.4, 0.6, 0.8, 1.0], "labelExpr": "format(datum.value, '.1f')"}},
     "y": {"field": "acf", "type": "quantitative", "scale": {"domain": [-0.0786, 1.0426], "nice": false, "zero": false}, "axis": {"values": [0, 0.2, 0.4, 0.6, 0.8, 1.0], "labelPadding": 13, "tickSize": 7, "labelExpr": "format(datum.value, '.1f')"}},
     "y2": {"datum": 0}
    }
   },
   {"data": {"values": [{}]}, "mark": {"type": "rule", "color": "black", "strokeWidth": 1}, "encoding": {"y": {"datum": 0}}},
   {"data": {"values": [{}]}, "mark": {"type": "rule", "color": "blue", "strokeWidth": 1, "strokeDash": [4, 2]}, "encoding": {"y": {"datum": 0.0188}}},
   {"data": {"values": [{}]}, "mark": {"type": "rule", "color": "blue", "strokeWidth": 1, "strokeDash": [4, 2]}, "encoding": {"y": {"datum": -0.0188}}}
  ]
 }
]
}
